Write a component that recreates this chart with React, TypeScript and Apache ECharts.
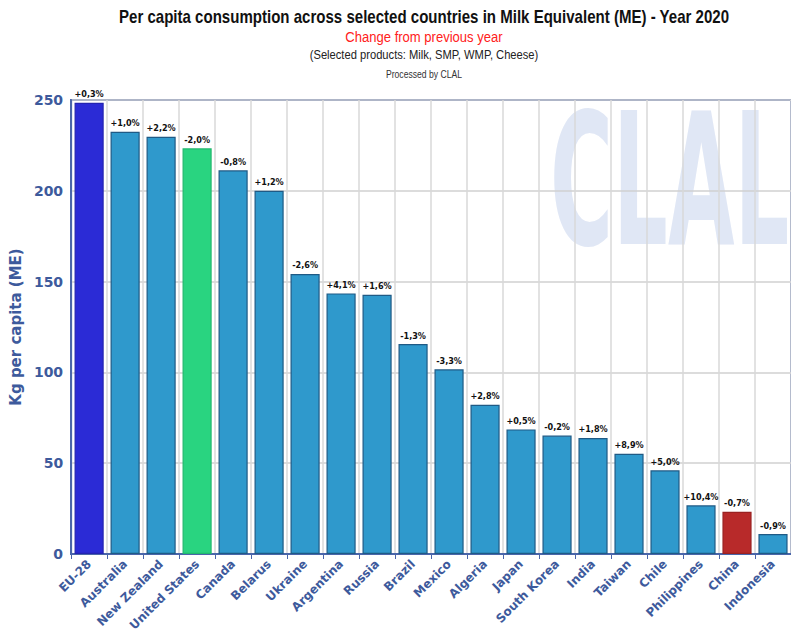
import React, { useEffect, useRef } from "react";
import * as echarts from "echarts";

const categories = [
  "EU-28", "Australia", "New Zealand", "United States", "Canada", "Belarus", "Ukraine",
  "Argentina", "Russia", "Brazil", "Mexico", "Algeria", "Japan", "South Korea", "India",
  "Taiwan", "Chile", "Philippines", "China", "Indonesia",
];
const values = [
  248.5, 232.5, 229.8, 223.4, 211.3, 200.0, 154.2, 143.5, 142.8, 115.6, 101.7, 82.2,
  68.6, 65.2, 63.9, 55.2, 46.1, 26.8, 23.3, 11.0,
];
const changes = [
  "+0,3%", "+1,0%", "+2,2%", "-2,0%", "-0,8%", "+1,2%", "-2,6%", "+4,1%", "+1,6%", "-1,3%",
  "-3,3%", "+2,8%", "+0,5%", "-0,2%", "+1,8%", "+8,9%", "+5,0%", "+10,4%", "-0,7%", "-0,9%",
];
const yTicks = [0, 50, 100, 150, 200, 250];

const colorFor = (name: string) => {
  if (name === "EU-28") return { fill: "#2b2bd6", border: "#2424b0" };
  if (name === "United States") return { fill: "#29d480", border: "#22b86d" };
  if (name === "China") return { fill: "#b82a2a", border: "#9a2222" };
  return { fill: "#2f99cc", border: "#1f5a85" };
};

const narrow = "'Liberation Sans', Arial, sans-serif";

export default function App() {
  const ref = useRef<HTMLDivElement>(null);
  useEffect(() => {
    if (!ref.current) return;
    const chart = echarts.init(ref.current, undefined, { renderer: "svg" });
    const axisBlue = "#3d5a9c";
    const headText = (text: string, y: number, font: string, fill: string, sx: number) => ({
      type: "text",
      x: 424, y, scaleX: sx, z: 10,
      style: { text, font, fill, textAlign: "center", textVerticalAlign: "middle" },
    });
    chart.setOption({
      animation: false,
      backgroundColor: "#ffffff",
      graphic: [
        {
          type: "text",
          x: 550, y: 89, scaleY: 2.14, z: -10,
          style: {
            text: "CLAL",
            fill: "#e0e7f5",
            font: "bold 86px 'DejaVu Sans', sans-serif",
            textVerticalAlign: "top",
          },
        },
        headText("Per capita consumption across selected countries in Milk Equivalent (ME) - Year 2020", 17, `bold 17.5px ${narrow}`, "#111111", 0.86),
        headText("Change from previous year", 37, `15px ${narrow}`, "#ff2020", 0.87),
        headText("(Selected products: Milk, SMP, WMP, Cheese)", 55, `13px ${narrow}`, "#222222", 0.86),
        headText("Processed by CLAL", 74, `10.5px ${narrow}`, "#333333", 0.82),
      ],
      grid: {
        left: 54, top: 100, width: 744, height: 454,
        show: true, borderColor: "#4a66aa", borderWidth: 2, backgroundColor: "transparent",
      },
      xAxis: {
        type: "category",
        data: categories,
        axisLine: { lineStyle: { color: "#4a66aa", width: 2 } },
        axisTick: { show: true, length: 5, lineStyle: { color: "#4a66aa" } },
        splitLine: { show: true, lineStyle: { color: "#d8d8d8", width: 1.5 } },
        axisLabel: {
          rotate: 45, interval: 0, margin: 8,
          fontFamily: "DejaVu Sans, Verdana, sans-serif", fontWeight: "bold", fontSize: 12, color: axisBlue,
        },
      },
      yAxis: {
        type: "value",
        min: 0, max: 250, interval: 50,
        name: "Kg per capita (ME)",
        nameLocation: "middle",
        nameGap: 32,
        nameTextStyle: { fontFamily: "DejaVu Sans, Verdana, sans-serif", fontWeight: "bold", fontSize: 15, color: axisBlue },
        axisLine: { show: true, lineStyle: { color: "#4a66aa", width: 2 } },
        axisTick: { show: false },
        splitLine: { show: true, lineStyle: { color: "#d0d0d0", width: 1.5 } },
        axisLabel: {
          margin: 8,
          fontFamily: "DejaVu Sans, Verdana, sans-serif", fontWeight: "bold", fontSize: 14, color: axisBlue,
          formatter: (v: number) => (yTicks.includes(v) ? String(v) : ""),
        },
      },
      series: [
        {
          type: "bar",
          barCategoryGap: "19%",
          data: values.map((v, i) => {
            const c = colorFor(categories[i]);
            return { value: v, itemStyle: { color: c.fill, borderColor: c.border, borderWidth: 1.2 } };
          }),
          label: {
            show: true,
            position: "top",
            distance: 4,
            formatter: (p: any) => changes[p.dataIndex],
            fontFamily: "DejaVu Sans Condensed, DejaVu Sans, sans-serif",
            fontWeight: "bold",
            fontSize: 9,
            color: "#111",
          },
        },
      ],
    });
    return () => chart.dispose();
  }, []);
  return <div ref={ref} style={{ position: "fixed", left: 0, top: 0, width: 791, height: 644 }} />;
}
